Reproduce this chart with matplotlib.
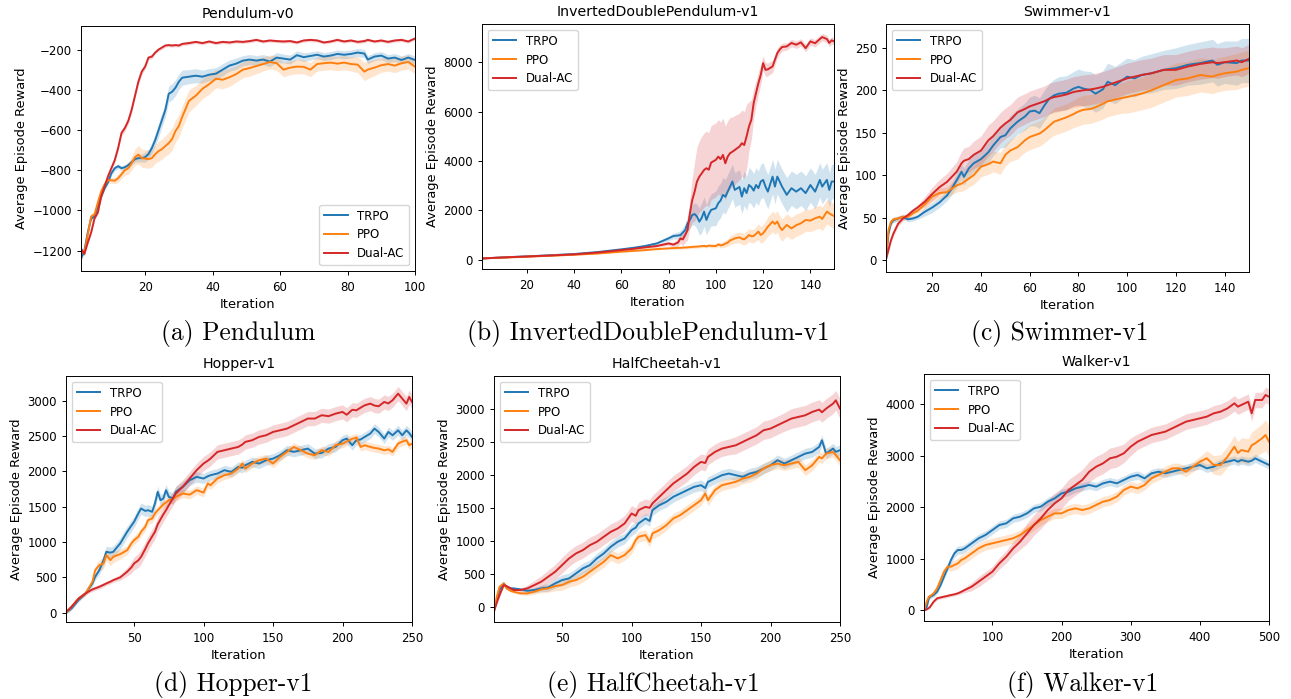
import matplotlib.pyplot as plt
import numpy as np

# ---------------- data ----------------
names = ["TRPO", "PPO", "Dual-AC"]
colors = ["#1f77b4", "#ff7f0e", "#d62728"]

# (a) Pendulum-v0
pend_x = [1, 2, 3, 4, 5, 6, 7, 8, 9, 10, 11, 12, 13, 14, 15, 16, 17, 18, 19, 20, 21, 22, 23, 24, 25,
          26, 27, 28, 29, 30, 31, 33, 35, 37, 39, 41, 43, 45, 47, 49, 51, 53, 55, 57, 59, 61, 63, 65,
          67, 69, 71, 73, 75, 77, 79, 81, 83, 85, 86, 88, 90, 92, 94, 96, 98, 100]
pend_trpo = [-1240, -1200, -1110, -1040, -1030, -980, -930, -890, -860, -815, -790, -780, -790, -785,
             -775, -760, -745, -740, -740, -735, -720, -690, -650, -600, -550, -500, -420, -410, -390,
             -360, -340, -335, -330, -335, -325, -320, -300, -280, -270, -255, -250, -255, -250, -260,
             -240, -245, -250, -228, -238, -232, -226, -235, -230, -222, -226, -222, -215, -220, -250,
             -235, -230, -245, -240, -252, -240, -252]
pend_ppo = [-1200, -1212, -1120, -1030, -1020, -960, -905, -870, -850, -850, -852, -840, -820, -800,
            -790, -765, -735, -722, -740, -742, -745, -740, -720, -705, -695, -680, -665, -645, -605,
            -580, -535, -455, -430, -395, -372, -345, -350, -338, -322, -300, -292, -282, -272, -262,
            -268, -300, -290, -285, -286, -300, -272, -268, -265, -270, -265, -272, -275, -310, -300,
            -290, -278, -272, -280, -268, -262, -285]
pend_dual = [-1190, -1216, -1160, -1110, -1040, -1010, -930, -880, -830, -790, -750, -690, -615, -590,
             -555, -500, -430, -360, -310, -285, -240, -235, -215, -200, -190, -180, -178, -180, -178,
             -180, -172, -168, -162, -168, -160, -168, -162, -165, -160, -162, -158, -152, -160, -155,
             -158, -160, -158, -165, -155, -152, -155, -165, -160, -152, -160, -155, -162, -158, -152,
             -160, -155, -162, -155, -152, -160, -145]
pend_trpo_sd = [10, 10, 10, 10, 10, 10, 10, 10, 10, 12, 12, 12, 12, 12, 15, 15, 15, 18, 20, 25, 25, 28,
                30, 35, 35, 35, 40, 40, 40, 38, 38, 35, 35, 32, 30, 30, 30, 28, 28, 25, 25, 25, 25, 25,
                25, 22, 22, 22, 22, 20, 20, 20, 20, 20, 20, 20, 20, 20, 20, 20, 20, 20, 20, 20, 20, 20]
pend_ppo_sd = [15, 15, 15, 15, 15, 15, 15, 15, 15, 15, 15, 20, 20, 25, 30, 35, 40, 45, 45, 45, 45, 45,
               45, 50, 50, 50, 55, 55, 55, 55, 55, 55, 50, 50, 50, 45, 45, 45, 40, 40, 40, 38, 35, 35,
               35, 35, 35, 35, 35, 35, 35, 35, 35, 35, 35, 35, 40, 45, 45, 40, 35, 35, 35, 35, 35, 35]
pend_dual_sd = [8, 8, 8, 8, 8, 8, 10, 10, 12, 12, 14, 14, 15, 15, 15, 15, 15, 15, 15, 12, 10, 10, 8,
                8, 8, 8, 8, 8, 8, 8, 8, 8, 8, 8, 8, 8, 8, 8, 8, 8, 8, 8, 8, 8, 8, 8, 8, 8, 8, 8, 8, 8,
                8, 8, 8, 8, 8, 8, 8, 8, 8, 8, 8, 8, 8, 8]

# (b) InvertedDoublePendulum-v1
idp_x = [1, 10, 20, 30, 40, 50, 60, 65, 70, 75, 80, 82, 84, 85, 86, 87, 88, 89, 90, 91, 92, 93, 94, 95,
         96, 97, 98, 100, 101, 102, 103, 104, 105, 106, 107, 108, 110, 111, 112, 113, 114, 115, 116,
         117, 118, 119, 120, 121, 122, 124, 125, 126, 127, 128, 130, 132, 134, 136, 138, 140, 142, 144,
         145, 147, 148, 149, 150]
idp_trpo = [50, 95, 135, 180, 230, 310, 420, 480, 555, 660, 866, 960, 980, 1000, 1100, 1200, 1475, 1610,
            1815, 1850, 1750, 1540, 1700, 1950, 1610, 1850, 2020, 2085, 2290, 2400, 2630, 2550, 2760,
            2965, 3170, 2830, 2950, 2560, 2900, 2700, 3030, 2950, 2800, 3030, 2900, 3170, 3236, 2965,
            2760, 3370, 2965, 3370, 3170, 2965, 2630, 2900, 2760, 2900, 2700, 3030, 2760, 3236, 2965,
            3236, 2830, 3170, 3170]
idp_ppo = [50, 85, 120, 160, 200, 250, 325, 355, 390, 430, 460, 470, 480, 480, 490, 495, 500, 510, 520,
           525, 530, 540, 550, 560, 540, 570, 560, 555, 620, 580, 600, 650, 690, 780, 820, 866, 907, 850,
           826, 900, 1000, 950, 960, 1050, 1137, 1000, 1070, 1200, 1340, 1545, 1450, 1545, 1330, 1200,
           1410, 1270, 1400, 1475, 1610, 1585, 1680, 1745, 1650, 1950, 1880, 1820, 1775]
idp_dual = [50, 90, 130, 170, 215, 290, 390, 440, 500, 555, 660, 610, 700, 860, 820, 1000, 1200, 1880,
            2420, 2760, 3170, 3370, 3500, 3640, 3710, 3650, 3940, 4050, 4180, 4080, 4250, 3910, 4180,
            4320, 4380, 4450, 4590, 4725, 4650, 5000, 5400, 5670, 6350, 6760, 7160, 7500, 7975, 7700,
            7720, 7840, 8110, 8380, 8520, 8625, 8650, 8790, 8720, 8815, 8580, 8855, 8780, 8950, 9030,
            8950, 8790, 8900, 8855]
idp_trpo_sd = [15, 15, 20, 20, 20, 25, 30, 40, 50, 60, 100, 120, 150, 180, 200, 250, 300, 350, 400,
               450, 500, 550, 600, 600, 600, 650, 650, 700, 700, 700, 700, 700, 700, 700, 700, 700, 700,
               700, 700, 700, 700, 700, 700, 700, 700, 700, 700, 700, 700, 700, 700, 700, 700, 700, 700,
               700, 700, 700, 700, 700, 700, 700, 700, 700, 700, 700, 700]
idp_ppo_sd = [10, 10, 10, 15, 15, 15, 20, 20, 25, 30, 40, 45, 50, 55, 55, 60, 60, 60, 60, 60, 60, 65,
              65, 70, 70, 70, 75, 80, 90, 100, 120, 140, 150, 170, 190, 200, 220, 230, 240, 250, 260,
              270, 280, 300, 320, 340, 350, 370, 390, 420, 430, 440, 450, 450, 450, 450, 450, 450, 450,
              450, 460, 470, 480, 500, 500, 500, 500]
idp_dual_sd = [15, 15, 20, 20, 20, 25, 30, 35, 40, 50, 80, 100, 150, 200, 250, 300, 400, 600, 900,
               1200, 1400, 1450, 1500, 1500, 1500, 1500, 1500, 1500, 1500, 1500, 1500, 1500, 1450,
               1450, 1400, 1400, 1350, 1350, 1350, 1300, 1000, 800, 600, 500, 450, 400, 300, 280, 260,
               250, 220, 200, 180, 160, 150, 150, 150, 150, 150, 150, 150, 150, 150, 150, 150, 150, 150]

# (c) Swimmer-v1
swim_x = [1, 2, 3, 4, 6, 8, 10, 12, 14, 17, 20, 23, 26, 28, 30, 32, 33, 35, 37, 40, 43, 45, 48, 50, 52,
          55, 58, 60, 62, 64, 66, 68, 70, 72, 75, 78, 80, 82, 85, 87, 90, 92, 95, 98, 100, 103, 106, 110,
          115, 120, 125, 130, 135, 137, 140, 145, 147, 150]
swim_trpo = [1, 31, 43, 47, 49, 51, 48, 49, 51, 57, 62, 68, 76, 84, 94, 104, 98, 108, 114, 119, 127,
             135, 145, 147, 155, 163, 169, 175, 176, 173, 182, 190, 194, 196, 197, 202, 204, 202, 200,
             196, 201, 210, 206, 212, 216, 214, 218, 220, 224, 226, 230, 232, 235, 230, 233, 232, 235, 235]
swim_ppo = [3, 35, 45, 48, 49, 51, 51, 55, 58, 66, 75, 79, 80, 84, 88, 90, 92, 96, 100, 110, 113, 116,
            114, 124, 129, 133, 141, 145, 147, 149, 153, 158, 163, 165, 168, 172, 175, 177, 178, 180,
            184, 187, 189, 191, 192, 194, 196, 200, 206, 212, 214, 218, 216, 218, 220, 222, 224, 226]
swim_dual = [1, 12, 23, 31, 43, 49, 53, 58, 62, 69, 78, 86, 92, 98, 104, 114, 117, 119, 124, 129, 141,
             146, 156, 161, 165, 174, 178, 181, 183, 185, 187, 190, 192, 193, 195, 198, 199, 200, 201,
             202, 204, 206, 209, 212, 214, 216, 218, 220, 224, 224, 228, 231, 233, 232, 233, 235, 233, 237]
swim_trpo_sd = [2, 3, 3, 3, 3, 3, 3, 3, 3, 5, 6, 6, 6, 7, 8, 9, 10, 10, 10, 10, 12, 12, 13, 14, 15,
                15, 16, 17, 18, 18, 18, 18, 19, 20, 20, 20, 21, 21, 22, 22, 22, 22, 22, 22, 22, 22, 22,
                23, 23, 24, 24, 25, 25, 25, 25, 26, 26, 26]
swim_ppo_sd = [2, 3, 3, 3, 3, 3, 3, 3, 3, 5, 6, 6, 6, 7, 8, 9, 10, 10, 11, 12, 12, 12, 13, 13, 13, 14,
               14, 15, 15, 15, 15, 15, 16, 16, 16, 16, 17, 17, 17, 17, 18, 18, 18, 18, 19, 19, 19, 20,
               20, 20, 20, 20, 20, 20, 20, 21, 21, 21]
swim_dual_sd = [2, 3, 3, 3, 3, 3, 3, 3, 3, 6, 8, 9, 10, 11, 12, 14, 15, 15, 16, 17, 18, 18, 18, 18, 18,
                18, 18, 18, 18, 18, 18, 18, 18, 18, 18, 18, 18, 18, 18, 18, 18, 18, 18, 18, 18, 18, 18,
                18, 18, 18, 18, 18, 18, 18, 17, 17, 17, 17]

# (d) Hopper-v1
hop_x = [1, 5, 10, 15, 20, 22, 25, 28, 30, 33, 35, 40, 45, 48, 50, 53, 55, 58, 60, 63, 65, 67, 69, 71, 73,
         75, 78, 80, 85, 90, 95, 100, 103, 105, 110, 115, 120, 125, 128, 130, 135, 140, 145, 150, 155,
         160, 165, 170, 175, 180, 185, 190, 195, 200, 203, 207, 210, 213, 216, 220, 223, 226, 230, 233,
         236, 240, 243, 246, 248, 250]
hop_trpo = [0, 61, 179, 273, 414, 509, 603, 744, 862, 850, 862, 980, 1144, 1230, 1286, 1403, 1474, 1440,
            1450, 1427, 1545, 1710, 1592, 1615, 1733, 1639, 1615, 1710, 1780, 1874, 1921, 1898, 1930,
            1945, 1969, 2016, 1992, 2063, 2050, 2086, 2133, 2110, 2157, 2180, 2227, 2298, 2275, 2298,
            2322, 2251, 2260, 2322, 2345, 2440, 2463, 2369, 2440, 2450, 2487, 2534, 2604, 2557, 2463,
            2557, 2510, 2580, 2510, 2580, 2540, 2487]
hop_ppo = [0, 85, 200, 273, 438, 603, 673, 697, 815, 744, 791, 829, 885, 980, 1027, 1074, 1144, 1215,
           1309, 1333, 1403, 1450, 1490, 1530, 1560, 1592, 1610, 1639, 1686, 1670, 1733, 1700, 1827, 1804,
           1898, 1945, 1969, 2039, 2110, 2039, 2110, 2157, 2180, 2110, 2204, 2275, 2345, 2298, 2251,
           2227, 2298, 2275, 2369, 2392, 2420, 2460, 2477, 2345, 2369, 2345, 2330, 2322, 2298, 2310,
           2275, 2392, 2420, 2440, 2369, 2392]
hop_dual = [10, 85, 200, 273, 330, 345, 367, 395, 414, 440, 461, 500, 580, 640, 697, 740, 790, 900, 980,
            1080, 1144, 1250, 1320, 1390, 1450, 1521, 1620, 1686, 1780, 1898, 2016, 2110, 2150, 2180,
            2275, 2298, 2322, 2345, 2380, 2416, 2440, 2487, 2510, 2557, 2580, 2604, 2651, 2698, 2746,
            2746, 2793, 2780, 2816, 2840, 2800, 2870, 2863, 2900, 2934, 2957, 2930, 2920, 2981, 2960,
            3005, 3099, 3028, 2957, 3052, 2981]
hop_trpo_sd = [20, 25, 30, 30, 40, 50, 60, 70, 80, 80, 80, 80, 80, 80, 80, 80, 80, 80, 80, 80, 80, 80,
               80, 80, 80, 80, 80, 75, 75, 75, 75, 70, 70, 70, 70, 70, 70, 70, 70, 70, 70, 70, 70, 70,
               70, 70, 70, 70, 70, 70, 70, 70, 70, 70, 70, 70, 70, 70, 70, 70, 70, 70, 70, 70, 70, 70,
               70, 70, 70, 70]
hop_ppo_sd = [20, 25, 30, 30, 40, 60, 80, 80, 80, 80, 80, 70, 60, 60, 60, 60, 60, 60, 60, 60, 60, 60,
              60, 60, 60, 60, 60, 60, 60, 60, 60, 60, 60, 60, 60, 60, 60, 60, 60, 60, 60, 60, 60, 60, 60,
              60, 60, 60, 60, 60, 60, 60, 60, 60, 60, 60, 60, 60, 60, 60, 60, 60, 60, 60, 60, 60, 60, 60,
              60, 60]
hop_dual_sd = [15, 20, 25, 25, 30, 30, 30, 30, 30, 30, 30, 40, 60, 80, 90, 100, 100, 100, 100, 100, 100,
               100, 100, 100, 100, 100, 100, 100, 100, 100, 100, 100, 100, 100, 100, 100, 100, 100, 100,
               100, 100, 100, 100, 100, 100, 100, 100, 100, 100, 100, 100, 100, 100, 100, 100, 100, 100,
               100, 100, 100, 100, 100, 100, 100, 100, 100, 100, 100, 100, 100]

# (e) HalfCheetah-v1
hc_x = [1, 3, 5, 8, 10, 13, 15, 20, 25, 30, 35, 40, 45, 50, 55, 60, 65, 70, 75, 80, 85, 90, 95, 100, 103,
        105, 110, 113, 115, 120, 125, 130, 135, 140, 145, 150, 153, 155, 160, 165, 170, 175, 180, 185,
        190, 195, 200, 205, 210, 215, 220, 225, 230, 235, 237, 240, 245, 247, 250]
hc_trpo = [-66, 100, 253, 354, 303, 278, 278, 263, 242, 253, 278, 293, 354, 404, 429, 505, 581, 631,
           732, 808, 909, 985, 1035, 1162, 1200, 1263, 1338, 1300, 1465, 1540, 1591, 1667, 1717, 1768,
           1818, 1843, 1800, 1894, 1944, 1995, 2020, 1995, 1970, 2020, 2045, 2096, 2146, 2222, 2172,
           2222, 2273, 2323, 2348, 2424, 2525, 2323, 2399, 2350, 2374]
hc_ppo = [-66, 150, 303, 354, 278, 240, 227, 202, 202, 227, 263, 278, 313, 328, 379, 404, 455, 530,
          606, 682, 783, 732, 783, 884, 1010, 1061, 1086, 985, 1111, 1162, 1237, 1338, 1389, 1465, 1540,
          1616, 1717, 1616, 1768, 1843, 1869, 1894, 1944, 1970, 2020, 2096, 2146, 2172, 2146, 2172, 2197,
          2071, 2146, 2273, 2250, 2323, 2348, 2300, 2222]
hc_dual = [-66, 60, 177, 328, 313, 278, 253, 253, 278, 328, 379, 455, 530, 631, 732, 808, 859, 934, 985,
           1061, 1136, 1187, 1263, 1414, 1380, 1465, 1515, 1500, 1566, 1667, 1768, 1869, 1944, 2020,
           2121, 2197, 2180, 2273, 2348, 2399, 2424, 2449, 2500, 2551, 2601, 2677, 2702, 2753, 2803,
           2854, 2879, 2904, 2955, 2990, 2950, 3005, 3081, 3131, 3005]
hc_trpo_sd = [20, 20, 20, 20, 20, 20, 20, 20, 30, 40, 50, 60, 70, 80, 80, 80, 80, 80, 80, 80, 80, 80,
              80, 80, 80, 80, 80, 80, 80, 80, 80, 80, 80, 80, 80, 80, 80, 80, 80, 80, 80, 80, 80, 80,
              80, 80, 80, 80, 80, 80, 80, 80, 80, 80, 80, 80, 80, 80, 80]
hc_ppo_sd = [20, 20, 20, 20, 20, 20, 20, 20, 30, 40, 50, 60, 70, 80, 80, 80, 80, 80, 80, 80, 80, 80,
             80, 80, 80, 80, 80, 80, 80, 80, 80, 80, 80, 80, 80, 80, 80, 80, 80, 80, 80, 80, 80, 80, 80,
             80, 80, 80, 80, 80, 80, 80, 80, 80, 80, 80, 80, 80, 80]
hc_dual_sd = [20, 20, 20, 20, 20, 20, 20, 30, 50, 70, 90, 100, 110, 120, 120, 120, 120, 120, 120, 120,
              120, 120, 120, 120, 120, 120, 120, 120, 120, 120, 120, 120, 120, 120, 120, 120, 120, 120,
              120, 120, 120, 130, 130, 130, 130, 140, 140, 140, 140, 150, 150, 150, 150, 150, 150, 150,
              150, 150, 150]

# (f) Walker-v1
walk_x = [1, 5, 8, 10, 15, 20, 25, 30, 35, 40, 45, 50, 55, 60, 70, 80, 90, 100, 110, 120, 130, 140, 150,
          160, 170, 180, 190, 200, 210, 220, 230, 240, 250, 260, 270, 280, 290, 300, 310, 320, 330, 340,
          350, 360, 370, 380, 390, 400, 410, 420, 430, 440, 450, 455, 460, 470, 475, 480, 490, 495, 500]
walk_trpo = [0, 71, 233, 265, 297, 362, 491, 653, 814, 976, 1105, 1170, 1170, 1202, 1299, 1396, 1461,
             1557, 1654, 1687, 1784, 1816, 1880, 1977, 2010, 2107, 2171, 2268, 2301, 2365, 2398, 2430,
             2398, 2462, 2495, 2462, 2527, 2591, 2624, 2559, 2656, 2688, 2656, 2688, 2721, 2753, 2785,
             2818, 2753, 2785, 2850, 2882, 2915, 2880, 2915, 2882, 2900, 2947, 2882, 2850, 2818]
walk_ppo = [0, 168, 265, 278, 330, 427, 588, 750, 847, 847, 879, 911, 976, 1008, 1105, 1202, 1267, 1299,
            1331, 1364, 1396, 1461, 1557, 1654, 1751, 1816, 1880, 1880, 1945, 1977, 1945, 1977, 2042,
            2107, 2139, 2204, 2333, 2398, 2365, 2430, 2559, 2624, 2688, 2753, 2753, 2688, 2785, 2882,
            2947, 2818, 2818, 2979, 3173, 3050, 3108, 3076, 3200, 3238, 3335, 3399, 3270]
walk_dual = [0, 19, 45, 71, 168, 233, 250, 265, 280, 297, 310, 330, 360, 394, 459, 556, 653, 750, 911,
             1040, 1202, 1331, 1493, 1654, 1784, 1945, 2074, 2171, 2333, 2430, 2527, 2688, 2785, 2850,
             2947, 2979, 3044, 3173, 3270, 3335, 3399, 3432, 3464, 3528, 3593, 3658, 3690, 3722, 3755,
             3819, 3852, 3916, 4013, 3949, 3981, 4045, 3819, 4078, 4078, 4175, 4142]
walk_trpo_sd = [20, 30, 40, 40, 40, 40, 40, 40, 60, 80, 80, 80, 80, 80, 80, 80, 80, 80, 80, 80, 80, 80,
                80, 80, 80, 80, 80, 80, 80, 80, 80, 80, 80, 80, 80, 80, 80, 80, 80, 80, 80, 80, 80, 80,
                80, 80, 80, 80, 80, 80, 80, 80, 80, 80, 80, 80, 80, 80, 80, 80, 80]
walk_ppo_sd = [20, 30, 40, 40, 40, 40, 40, 40, 60, 80, 100, 100, 100, 100, 100, 100, 100, 100, 100, 100,
               100, 100, 100, 100, 100, 100, 100, 100, 100, 100, 100, 100, 100, 100, 100, 100, 100, 100,
               100, 100, 100, 100, 100, 100, 100, 100, 100, 100, 150, 180, 200, 200, 220, 220, 240, 250,
               260, 270, 280, 300, 300]
walk_dual_sd = [10, 15, 20, 20, 25, 30, 30, 30, 30, 30, 30, 30, 40, 50, 80, 100, 100, 100, 110, 120, 130,
                150, 200, 200, 200, 200, 200, 200, 200, 200, 200, 200, 200, 200, 200, 200, 180, 170, 150,
                150, 150, 150, 150, 150, 150, 150, 150, 150, 150, 150, 150, 150, 150, 150, 150, 150, 150,
                150, 150, 150, 150]

# ---------------- figure ----------------
# each panel looks like a default matplotlib figure shrunk to ~85 %
plt.rcParams['axes.linewidth'] = 0.7
plt.rcParams['xtick.major.size'] = 3
plt.rcParams['ytick.major.size'] = 3
plt.rcParams['xtick.major.width'] = 0.7
plt.rcParams['ytick.major.width'] = 0.7
plt.rcParams['xtick.major.pad'] = 4.5
plt.rcParams['ytick.major.pad'] = 3.5

W, H = 1291, 699
fig = plt.figure(figsize=(W / 100, H / 100), dpi=100)


def px_axes(x0, y0, x1, y1):
    return fig.add_axes([x0 / W, 1 - y1 / H, (x1 - x0) / W, (y1 - y0) / H])


def panel(ax, x, means, sds, title, xlim, ylim, xticks, yticks, loc):
    for m, s, c, n in zip(means, sds, colors, names):
        m = np.array(m, dtype=float)
        s = np.array(s, dtype=float)
        ax.fill_between(x, m - s, m + s, color=c, alpha=0.2, linewidth=0)
        ax.plot(x, m, color=c, lw=1.4, label=n)
    ax.set_xlim(*xlim)
    ax.set_ylim(*ylim)
    ax.set_xticks(xticks)
    ax.set_yticks(yticks)
    ax.tick_params(labelsize=8.5)
    ax.set_title(title, fontsize=10.2, pad=5.5)
    ax.set_xlabel("Iteration", fontsize=9.4, labelpad=2.5)
    ax.set_ylabel("Average Episode Reward", fontsize=9.4, labelpad=3)
    ax.legend(loc=loc, fontsize=8.5)


ax = px_axes(81, 26, 415, 271)
panel(ax, pend_x, [pend_trpo, pend_ppo, pend_dual], [pend_trpo_sd, pend_ppo_sd, pend_dual_sd],
      "Pendulum-v0", (1, 100), (-1301, -83), [20, 40, 60, 80, 100],
      [-1200, -1000, -800, -600, -400, -200], "lower right")

ax = px_axes(482, 24, 834, 269)
panel(ax, idp_x, [idp_trpo, idp_ppo, idp_dual], [idp_trpo_sd, idp_ppo_sd, idp_dual_sd],
      "InvertedDoublePendulum-v1", (1, 150), (-378, 9560), [20, 40, 60, 80, 100, 120, 140],
      [0, 2000, 4000, 6000, 8000], "upper left")

ax = px_axes(886, 24, 1249, 272)
panel(ax, swim_x, [swim_trpo, swim_ppo, swim_dual], [swim_trpo_sd, swim_ppo_sd, swim_dual_sd],
      "Swimmer-v1", (1, 150), (-14, 278), [20, 40, 60, 80, 100, 120, 140],
      [0, 50, 100, 150, 200, 250], "upper left")

ax = px_axes(66, 376, 412, 622)
panel(ax, hop_x, [hop_trpo, hop_ppo, hop_dual], [hop_trpo_sd, hop_ppo_sd, hop_dual_sd],
      "Hopper-v1", (1, 250), (-131, 3348), [50, 100, 150, 200, 250],
      [0, 500, 1000, 1500, 2000, 2500, 3000], "upper left")

ax = px_axes(494, 376, 840, 622)
panel(ax, hc_x, [hc_trpo, hc_ppo, hc_dual], [hc_trpo_sd, hc_ppo_sd, hc_dual_sd],
      "HalfCheetah-v1", (1, 250), (-232, 3500), [50, 100, 150, 200, 250],
      [0, 500, 1000, 1500, 2000, 2500, 3000], "upper left")

ax = px_axes(924, 374, 1269, 621)
panel(ax, walk_x, [walk_trpo, walk_ppo, walk_dual], [walk_trpo_sd, walk_ppo_sd, walk_dual_sd],
      "Walker-v1", (1, 500), (-207, 4582), [100, 200, 300, 400, 500],
      [0, 1000, 2000, 3000, 4000], "upper left")

captions = [("(a) Pendulum", 238, 333), ("(b) InvertedDoublePendulum-v1", 648, 333),
            ("(c) Swimmer-v1", 1060, 333), ("(d) Hopper-v1", 233, 685),
            ("(e) HalfCheetah-v1", 653, 685), ("(f) Walker-v1", 1083, 685)]
for txt, cx, cy in captions:
    fig.text(cx / W, 1 - cy / H, txt, ha="center", va="center", fontsize=18.3, family="cmr10")

fig.savefig("out.png", dpi=100)
